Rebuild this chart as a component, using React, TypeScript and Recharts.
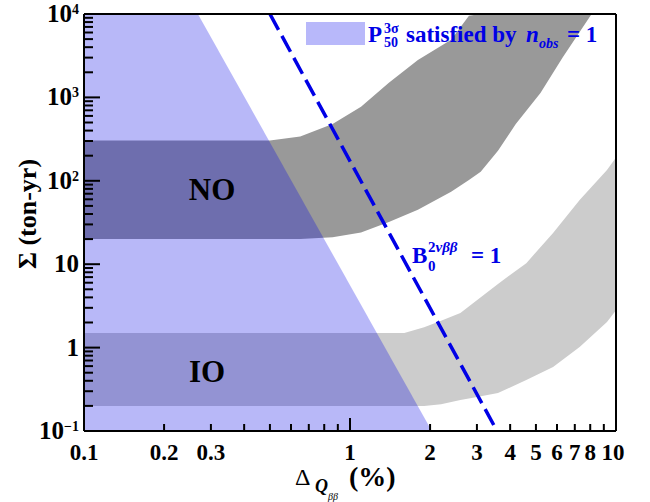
import React from "react";
import {
  ComposedChart,
  Area,
  Line,
  XAxis,
  YAxis,
  ReferenceLine,
} from "recharts";

// x ticks (Δ in %), labelled subset
const X_TICKS = [0.1, 0.2, 0.3, 0.4, 0.5, 0.6, 0.7, 0.8, 0.9, 1, 2, 3, 4, 5, 6, 7, 8, 9, 10];
const X_LABELED = [0.1, 0.2, 0.3, 1, 2, 3, 4, 5, 6, 7, 8, 10];

// y ticks (exposure, ton-yr)
const Y_DECADES = [0.1, 1, 10, 100, 1000, 10000];
const Y_LABELS = [
  { base: "10", exp: "\u22121" },
  { base: "1", exp: "" },
  { base: "10", exp: "" },
  { base: "10", exp: "2" },
  { base: "10", exp: "3" },
  { base: "10", exp: "4" },
];
const Y_MINOR = [2, 3, 4, 5, 6, 7, 8, 9];

// region where P50(3σ) is satisfied by n_obs = 1
const BLUE_X = [0.1, 0.268, 2.03];
const BLUE_LO = [0.1, 0.1, 0.1];
const BLUE_HI = [10000, 10000, 0.1];

// normal ordering band
const NO_X = [0.1, 0.5, 0.65, 0.86, 1.1, 1.4, 1.8, 2.4, 2.8, 3.1, 3.6, 4.2, 5.2, 6.3, 8.1];
const NO_LO = [20, 20, 20, 21, 24, 32, 45, 74, 102, 128, 230, 480, 1130, 3000, 10000];
const NO_HI = [305, 305, 340, 480, 770, 1500, 2800, 4900, 9500, 10000, 10000, 10000, 10000, 10000, 10000];

// inverted ordering band
const IO_X = [0.1, 1.6, 1.9, 2.2, 2.6, 2.9, 3.6, 4.6, 5.8, 7.3, 9.25, 10];
const IO_LO = [0.2, 0.2, 0.2, 0.21, 0.235, 0.25, 0.285, 0.41, 0.585, 1.02, 2.03, 2.8];
const IO_HI = [1.5, 1.5, 1.75, 2.1, 2.6, 3.4, 5.8, 10.3, 23.7, 59, 135, 190];

// B0(2νββ) = 1 line
const B_X = [0.5, 3.57];
const B_Y = [10000, 0.1];

const FONT = "'Liberation Serif', 'Times New Roman', serif";
const BLUE = "#0000e6";

const yTicks: number[] = [];
Y_DECADES.forEach((d, i) => {
  yTicks.push(d);
  if (i < Y_DECADES.length - 1) Y_MINOR.forEach((m) => yTicks.push(+(d * m).toPrecision(3)));
});

const near = (a: number, b: number) => Math.abs(a - b) < 1e-6 * Math.max(a, b);

const blueData = BLUE_X.map((x, i) => ({ x, band: [BLUE_LO[i], BLUE_HI[i]] }));
const noData = NO_X.map((x, i) => ({ x, band: [NO_LO[i], NO_HI[i]] }));
const ioData = IO_X.map((x, i) => ({ x, band: [IO_LO[i], IO_HI[i]] }));
const bData = B_X.map((x, i) => ({ x, y: B_Y[i] }));

const XTick = (props: any) => {
  const { x, y, payload } = props;
  const v = payload.value;
  const major = near(v, 1) || near(v, 0.1) || near(v, 10);
  const labeled = X_LABELED.some((l) => near(l, v));
  return (
    <g>
      <line x1={x} y1={y} x2={x} y2={y - (major ? 13 : 7)} stroke="#000" strokeWidth={2} />
      {labeled && (
        <text
          x={near(v, 10) ? x - 3 : x}
          y={y + 29}
          textAnchor="middle"
          fontFamily={FONT}
          fontWeight="bold"
          fontSize={23}
          fill="#000"
        >
          {String(v)}
        </text>
      )}
    </g>
  );
};

const YTick = (props: any) => {
  const { x, y, payload } = props;
  const v = payload.value;
  const idx = Y_DECADES.findIndex((d) => near(d, v));
  const major = idx >= 0;
  const lab = major ? Y_LABELS[idx] : null;
  return (
    <g>
      <line x1={x} y1={y} x2={x + (major ? 16 : 9)} y2={y} stroke="#000" strokeWidth={2} />
      {lab && (
        <text
          x={x - 5}
          y={y + 8}
          textAnchor="end"
          fontFamily={FONT}
          fontWeight="bold"
          fontSize={25}
          fill="#000"
        >
          {lab.base}
          {lab.exp && (
            <tspan fontSize={14} dy={-8}>
              {lab.exp}
            </tspan>
          )}
        </text>
      )}
    </g>
  );
};

export default function App() {
  return (
    <div style={{ position: "relative", width: 650, height: 502, background: "#fff" }}>
      <style>{"body{margin:0}"}</style>
      <ComposedChart
        width={650}
        height={502}
        margin={{ top: 14, right: 34, bottom: 41, left: 24 }}
      >
        <XAxis
          type="number"
          dataKey="x"
          scale="log"
          domain={[0.1, 10]}
          allowDataOverflow
          ticks={X_TICKS}
          interval={0}
          tickSize={0}
          tickMargin={0}
          tickLine={false}
          height={30}
          axisLine={{ stroke: "#000", strokeWidth: 2 }}
          tick={<XTick />}
        />
        <YAxis
          type="number"
          scale="log"
          domain={[0.1, 10000]}
          allowDataOverflow
          ticks={yTicks}
          interval={0}
          tickSize={0}
          tickMargin={0}
          tickLine={false}
          width={60}
          axisLine={{ stroke: "#000", strokeWidth: 2 }}
          tick={<YTick />}
        />
        <Area
          data={noData}
          dataKey="band"
          type="linear"
          fill="#999999"
          fillOpacity={1}
          stroke="none"
          isAnimationActive={false}
        />
        <Area
          data={ioData}
          dataKey="band"
          type="linear"
          fill="#cccccc"
          fillOpacity={1}
          stroke="none"
          isAnimationActive={false}
        />
        <Area
          data={blueData}
          dataKey="band"
          type="linear"
          fill={BLUE}
          fillOpacity={0.28}
          stroke="none"
          isAnimationActive={false}
        />
        <Line
          data={bData}
          dataKey="y"
          type="linear"
          stroke={BLUE}
          strokeWidth={3.5}
          strokeDasharray="18 7"
          dot={false}
          isAnimationActive={false}
        />
        <ReferenceLine y={10000} stroke="#000" strokeWidth={2} />
        <ReferenceLine x={10} stroke="#000" strokeWidth={2} />
      </ComposedChart>

      <svg
        width={650}
        height={502}
        style={{ position: "absolute", left: 0, top: 0, pointerEvents: "none" }}
        fontFamily={FONT}
        fontWeight="bold"
      >
        {/* legend */}
        <rect x={306} y={22} width={59} height={23} fill="#b8b8fa" />
        <text x={368} y={42} fontSize={23} fill={BLUE}>P</text>
        <text x={384} y={33} fontSize={14} fill={BLUE}>3σ</text>
        <text x={384} y={47} fontSize={14} fill={BLUE}>50</text>
        <text x={406} y={42} fontSize={23} fill={BLUE}>satisfied by</text>
        <text x={526} y={42} fontSize={23} fill={BLUE} fontStyle="italic">n</text>
        <text x={539} y={48} fontSize={14} fill={BLUE} fontStyle="italic">obs</text>
        <text x={567} y={42} fontSize={23} fill={BLUE}>= 1</text>

        {/* band labels */}
        <text x={212} y={200} fontSize={31} textAnchor="middle" fill="#000">NO</text>
        <text x={207} y={382} fontSize={31} textAnchor="middle" fill="#000">IO</text>

        {/* B0 label */}
        <text x={412} y={263} fontSize={23} fill={BLUE}>B</text>
        <text x={428} y={271} fontSize={15} fill={BLUE}>0</text>
        <text x={428} y={252} fontSize={15} fill={BLUE}>
          2<tspan fontStyle="italic">νββ</tspan>
        </text>
        <text x={471} y={263} fontSize={23} fill={BLUE}>= 1</text>

        {/* axis titles */}
        <text x={295} y={485} fontSize={24} fontWeight="normal" fill="#000">Δ</text>
        <text x={315} y={492} fontSize={18} fontStyle="italic" fill="#000">Q</text>
        <text x={328} y={500} fontSize={10} fontStyle="italic" fontWeight="normal" fill="#000">ββ</text>
        <text x={349} y={486} fontSize={28} fill="#000">(%)</text>
        <text
          transform="translate(36,214) rotate(-90)"
          textAnchor="middle"
          fontSize={26}
          fill="#000"
        >
          Σ (ton-yr)
        </text>
      </svg>
    </div>
  );
}
